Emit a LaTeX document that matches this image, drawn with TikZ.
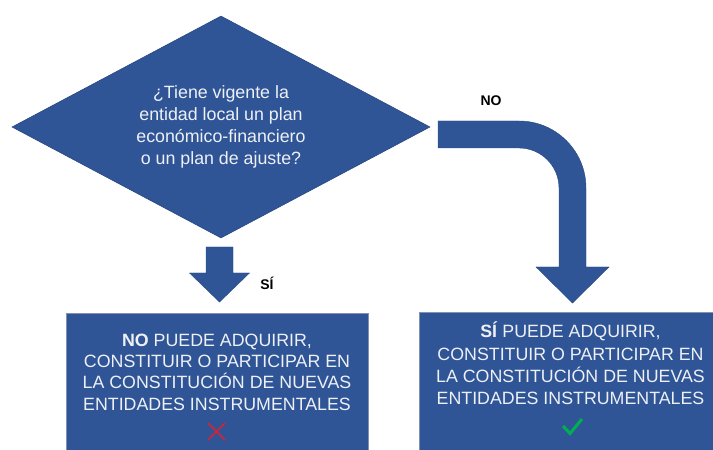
\documentclass[tikz,border=0pt]{standalone}
\usepackage{fontspec}
\setmainfont{Liberation Sans}
\usetikzlibrary{shapes.geometric}
\definecolor{fillblue}{RGB}{47,85,151}
\definecolor{edgeblue}{RGB}{40,72,130}
\definecolor{boxedge}{RGB}{130,145,175}
\definecolor{txt}{RGB}{238,240,246}
\definecolor{xred}{RGB}{214,34,52}
\definecolor{okgreen}{RGB}{0,176,80}
\begin{document}
\begin{tikzpicture}[x=1pt,y=1pt,
  decision/.style={diamond, aspect=1.88, minimum width=418pt, minimum height=222pt, inner sep=0pt,
    fill=fillblue, draw=edgeblue, line width=0.6pt, text=txt, align=center,
    font=\fontsize{17.8}{22}\selectfont},
  outbox/.style={rectangle, fill=fillblue, draw=boxedge, line width=0.8pt, inner sep=0pt},
  btext/.style={text=txt, align=center, inner sep=0pt},
  blockarrow/.style={fill=fillblue, draw=edgeblue, line width=0.4pt},
  lbl/.style={font=\fontsize{14}{16}\selectfont\bfseries, text=black, inner sep=0pt}
]
\useasboundingbox (0,0) rectangle (713,450);
\fill[white] (0,0) rectangle (713,450);
\clip (0,0) rectangle (713,450);

% decision
\node[decision] (q) at (221,323) {¿Tiene vigente la\\entidad local un plan\\económico-financiero\\o un plan de ajuste?};

% result boxes
\node[outbox, minimum width=302pt, minimum height=160pt, anchor=north west] (nb) at (66,137) {};
\node[btext, font=\fontsize{17.8}{21.4}\selectfont] (nbt) at (217,78)
  {\textbf{NO} PUEDE ADQUIRIR,\\CONSTITUIR O PARTICIPAR EN\\LA CONSTITUCIÓN DE NUEVAS\\ENTIDADES INSTRUMENTALES};
\node[outbox, minimum width=306pt, minimum height=160pt, anchor=north west] (sb) at (419,138) {};
\node[btext, font=\fontsize{17.8}{22.3}\selectfont] (sbt) at (570.5,86.5)
  {\textbf{SÍ} PUEDE ADQUIRIR,\\CONSTITUIR O PARTICIPAR EN\\LA CONSTITUCIÓN DE NUEVAS\\ENTIDADES INSTRUMENTALES};

% cross and check
\draw[xred, line width=1.6pt] (208,27) -- (225,10) (208,10) -- (225,27);
\draw[okgreen, line width=3pt, line join=miter] (563,24) -- (570,16.5) -- (582,31);

% straight block arrow (SI)
\fill[blockarrow] (206,203) -- (233,203) -- (233,177) -- (249.5,177) -- (219.5,148)
  -- (189.5,177) -- (206,177) -- cycle;
\node[lbl] (si) at (267,167) {SÍ};

% bent block arrow (NO)
\fill[blockarrow] (438,329) -- (519,329) arc[start angle=90, end angle=0, radius=67]
  -- (586,183) -- (609,183) -- (572.5,147) -- (536,183) -- (559,183) -- (559,262)
  arc[start angle=0, end angle=90, radius=40] -- (438,302) -- cycle;
\node[lbl] (no) at (491,349) {NO};
\end{tikzpicture}
\end{document}
